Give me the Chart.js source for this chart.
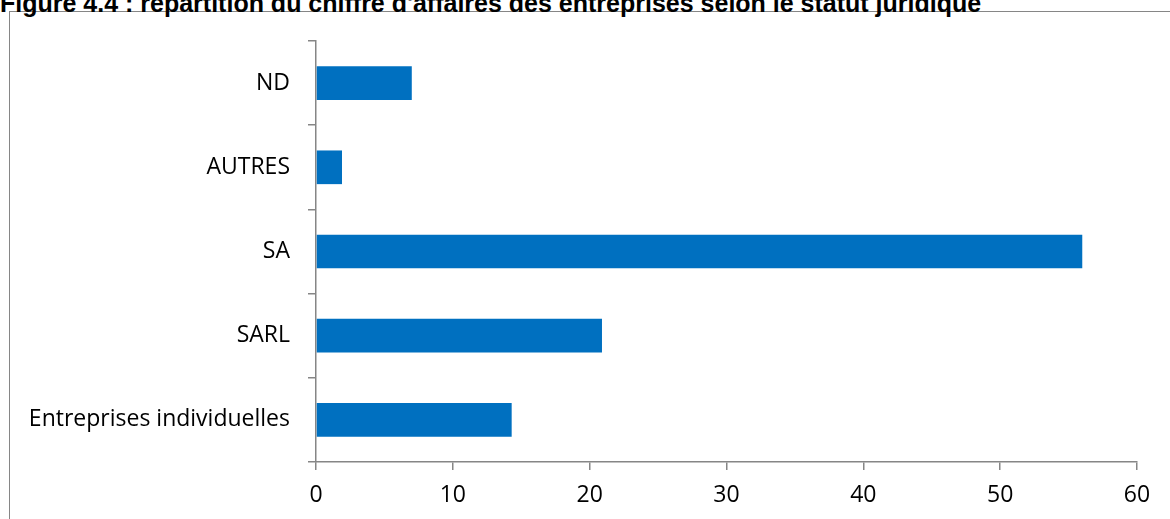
<!DOCTYPE html>
<html>
<head>
<meta charset="utf-8">
<script src="https://cdn.jsdelivr.net/npm/chart.js@4"></script>
<style>
  html, body { margin: 0; padding: 0; background: #fff; }
  #wrap { position: relative; width: 1170px; height: 519px; overflow: hidden; }
  #title {
    position: absolute; left: 0; top: -11px; white-space: nowrap; line-height: 1;
    font: bold 25px "Liberation Sans", Arial, sans-serif; color: #000;
  }
  #frame {
    position: absolute; left: 9px; top: 11px; width: 1200px; height: 600px;
    border-top: 1px solid #868686; border-left: 1px solid #868686;
  }
  #chart { position: absolute; left: 0; top: 0; }
</style>
</head>
<body>
<div id="wrap">
  <div id="frame"></div>
  <div id="title">Figure 4.4 : répartition du chiffre d'affaires des entreprises selon le statut juridique</div>
  <canvas id="chart" width="1170" height="519"></canvas>
</div>
<script>
// statuts juridiques, de haut en bas
const categories = ["ND", "AUTRES", "SA", "SARL", "Entreprises individuelles"];
// part du chiffre d'affaires (%)
const values = [7.0, 1.9, 56.0, 20.9, 14.3];
const xTicks = [0, 10, 20, 30, 40, 50, 60];

const axisColor = "#868686";
const labelFont = { family: "'Open Sans', sans-serif", size: 23 };

var barChart = new Chart(document.getElementById("chart"), {
    type: 'bar',
    data: {
        labels: categories,
        datasets: [{
            data: values,
            backgroundColor: "#0070C0",
            barPercentage: 0.4,
            categoryPercentage: 1.0
        }]
    },
    options: {
        indexAxis: 'y',
        responsive: false,
        animation: false,
        layout: { padding: { top: 41, right: 33, left: 0, bottom: 0 } },
        plugins: { legend: { display: false }, tooltip: { enabled: false } },
        scales: {
            x: {
                min: xTicks[0],
                max: xTicks[xTicks.length - 1],
                afterBuildTicks: function(scale) {
                    scale.ticks = xTicks.map(v => ({ value: v }));
                },
                afterFit: function(scale) { scale.height = 57; },
                border: { color: axisColor, width: 1.5 },
                grid: { drawOnChartArea: false, color: axisColor, tickLength: 8, lineWidth: 1.5 },
                ticks: { color: "#000", font: labelFont, padding: 12, maxRotation: 0 }
            },
            y: {
                afterFit: function(scale) { scale.width = 316; },
                border: { color: axisColor, width: 1.5 },
                grid: { drawOnChartArea: false, color: axisColor, tickLength: 8, lineWidth: 1.5, offset: true },
                ticks: { color: "#000", font: labelFont, padding: 18 }
            }
        }
    }
});
</script>
</body>
</html>
